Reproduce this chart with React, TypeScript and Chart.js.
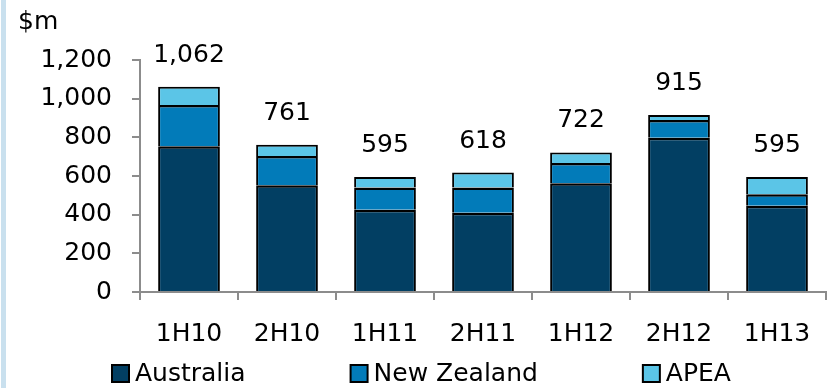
import React, { useEffect, useRef } from 'react';
import { Chart, registerables } from 'chart.js';

Chart.register(...registerables);

const categories = ['1H10', '2H10', '1H11', '2H11', '1H12', '2H12', '1H13'];
const australia = [754, 552, 426, 410, 562, 798, 446];
const newZealand = [213, 151, 114, 130, 105, 92, 59];
const apea = [95, 58, 55, 78, 55, 25, 90];
const totals = [1062, 761, 595, 618, 722, 915, 595];
const seriesNames = ['Australia', 'New Zealand', 'APEA'];
const seriesColors = ['#023f63', '#027bb9', '#5bc5e7'];
const yMin = 0;
const yMax = 1200;
const yStep = 200;
const unitLabel = '$m';

const FONT = "'DejaVu Sans', Verdana, sans-serif";
const FS = 25;

const decorPlugin = {
  id: 'decor',
  beforeDraw(chart: any) {
    const ctx = chart.ctx;
    ctx.save();
    ctx.fillStyle = '#c9e0ee';
    ctx.fillRect(1, 0, 5, chart.height);
    ctx.restore();
  },
  afterDraw(chart: any) {
    const ctx = chart.ctx;
    const xs = chart.scales.x;
    const ys = chart.scales.y;
    ctx.save();
    ctx.font = `${FS}px ${FONT}`;
    ctx.fillStyle = '#000';
    ctx.textAlign = 'left';
    ctx.textBaseline = 'middle';
    ctx.fillText(unitLabel, 18, 22);
    ctx.textAlign = 'center';
    ctx.textBaseline = 'alphabetic';
    totals.forEach((t, i) => {
      const x = xs.getPixelForValue(i);
      const y = ys.getPixelForValue(t) - 25;
      ctx.fillText(t.toLocaleString('en-US'), x, y);
    });
    let x = 112;
    const boxY = 365;
    const box = 17;
    chart.data.datasets.forEach((ds: any) => {
      ctx.fillStyle = ds.backgroundColor;
      ctx.fillRect(x, boxY, box, box);
      ctx.strokeStyle = '#000';
      ctx.lineWidth = 2;
      ctx.strokeRect(x, boxY, box, box);
      ctx.fillStyle = '#000';
      ctx.textAlign = 'left';
      ctx.textBaseline = 'middle';
      const tx = x + box + 6;
      ctx.fillText(ds.label, tx, boxY + box / 2 + 1);
      x = tx + ctx.measureText(ds.label).width + 105;
    });
    ctx.restore();
  },
};

const borders = [
  { left: 2, right: 2, top: 2.5, bottom: 0 },
  { left: 2, right: 2, top: 2.5, bottom: 0 },
  { left: 2, right: 2, top: 2, bottom: 0 },
];

export default function App() {
  const ref = useRef<HTMLCanvasElement | null>(null);
  useEffect(() => {
    document.body.style.margin = '0';
    const canvas = ref.current;
    if (!canvas) return;
    const series = [australia, newZealand, apea];
    const chart = new Chart(canvas, {
      type: 'bar',
      data: {
        labels: categories,
        datasets: series.map((d, i) => ({
          label: seriesNames[i],
          data: d,
          backgroundColor: seriesColors[i],
          borderColor: '#000',
          borderWidth: borders[i],
          borderSkipped: false,
          inflateAmount: 0,
          categoryPercentage: 1,
          barPercentage: 0.63,
        })),
      },
      options: {
        animation: false,
        responsive: false,
        maintainAspectRatio: false,
        devicePixelRatio: 1,
        layout: { padding: { left: 0, right: 7, top: 60, bottom: 36 } },
        plugins: {
          legend: { display: false },
          tooltip: { enabled: false },
          title: { display: false },
        },
        scales: {
          x: {
            stacked: true,
            grid: {
              display: true,
              drawOnChartArea: false,
              drawTicks: true,
              tickLength: 8,
              color: '#8c8c8c',
              lineWidth: 2,
            },
            border: { display: true, color: '#8c8c8c', width: 2 },
            ticks: {
              color: '#000',
              font: { family: FONT, size: FS },
              padding: 19,
              maxRotation: 0,
              autoSkip: false,
            },
            afterFit: (s: any) => { s.height = 60; },
          },
          y: {
            stacked: true,
            min: yMin,
            max: yMax,
            grid: {
              display: true,
              drawOnChartArea: false,
              drawTicks: true,
              tickLength: 8,
              color: '#8c8c8c',
              lineWidth: 2,
            },
            border: { display: true, color: '#8c8c8c', width: 2 },
            ticks: {
              stepSize: yStep,
              color: '#000',
              font: { family: FONT, size: FS },
              padding: 20,
              callback: (v: any) => Number(v).toLocaleString('en-US'),
            },
            afterFit: (s: any) => { s.width = 140; },
          },
        },
      },
      plugins: [decorPlugin],
    });
    return () => chart.destroy();
  }, []);
  return (
    <div style={{ width: 833, height: 388, background: '#fff' }}>
      <canvas ref={ref} width={833} height={388} style={{ display: 'block', width: 833, height: 388 }} />
    </div>
  );
}
